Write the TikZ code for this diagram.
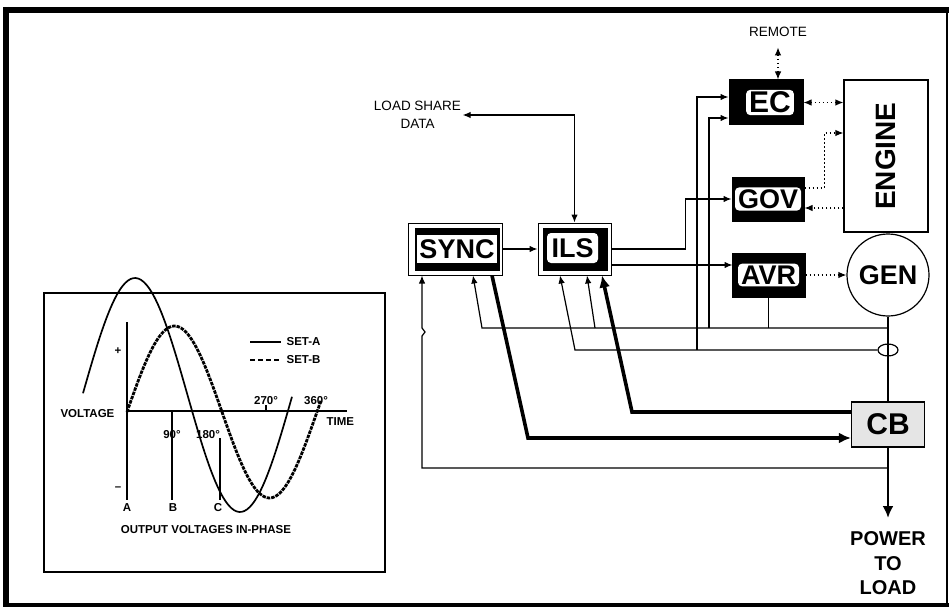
\documentclass[tikz,border=0pt]{standalone}
\usepackage{fontspec}
\setmainfont{Liberation Sans}
\usetikzlibrary{arrows.meta, calc, shapes.geometric}
\tikzset{
  every picture/.style={x=1pt, y=-1pt, line width=1.2pt, >={Latex[length=8pt, width=6.5pt]}},
  shell/.style={draw, fill=white, line width=1pt, inner sep=0pt},
  ctl/.style={draw, fill=black, line width=1pt, inner sep=0pt},
  tag/.style={fill=white, rounded corners=4pt, inner xsep=3pt, inner ysep=2pt, font=\bfseries\fontsize{27}{30}\selectfont},
  fat/.style={line width=3.6pt, -{Latex[length=12pt, width=11pt]}},
  sig/.style={dash pattern=on 1.5pt off 2.5pt, line width=1.2pt},
  note/.style={font=\fontsize{13.5}{18}\selectfont, align=center, inner sep=1pt},
  tiny/.style={font=\bfseries\fontsize{11.5}{13}\selectfont, inner sep=1pt},
}
\begin{document}
\begin{tikzpicture}
  \useasboundingbox (0,0) rectangle (950,607);
  \draw[line width=6pt] (3,10) -- (949,10); \draw[line width=6pt] (6,7) -- (6,607);
  \draw[line width=2.5pt] (947,10) -- (947,605); \draw[line width=4pt] (3,605) -- (949,605);

  \draw[line width=1.4pt] (44,293) rectangle (385,572);
  \draw (127,322) -- (127,500); \draw (172,411) -- (172,500); \draw (220,438) -- (220,500);
  \draw (127,411) -- (347,411); \draw (266,411) -- (266,405);
  \draw[line width=1.7pt] plot[domain=83:292, samples=80, smooth] (\x, {395-117*sin((\x-82.5)/210*360)});
  \draw[line width=2.8pt, dash pattern=on 3.5pt off 1pt] plot[domain=127:321, samples=80, smooth] (\x, {412-86*sin((\x-127)/190*360)});
  \draw (250,342) -- (281,342); \draw[dash pattern=on 5pt off 3pt] (250,360) -- (281,360);
  \node[tiny, anchor=west] (seta) at (285,342) {SET-A};
  \node[tiny, anchor=west] (setb) at (285,360) {SET-B};
  \node[tiny, anchor=east] (volt) at (116,414) {VOLTAGE};
  \node[tiny] (plus) at (118,351) {+}; \node[tiny] (minus) at (118,489) {--};
  \node[tiny] (la) at (127,508) {A}; \node[tiny] (lb) at (173,508) {B}; \node[tiny] (lc) at (218,508) {C};
  \node[tiny] (d90) at (172,435) {90°}; \node[tiny] (d180) at (208,435) {180°};
  \node[tiny] (d270) at (266,401) {270°}; \node[tiny] (d360) at (316,401) {360°};
  \node[tiny, anchor=west] (time) at (325,422) {TIME};
  \node[tiny] (inphase) at (206,530) {OUTPUT VOLTAGES IN-PHASE};

  \node[shell, minimum width=94pt, minimum height=52pt] (sync) at (455,249) {};
  \node[ctl, minimum width=84pt, minimum height=42pt] (syncbg) at (457,249) {};
  \node[tag, rounded corners=0pt, minimum width=80pt, minimum height=28pt, inner sep=0pt] (synct) at (457,249) {SYNC};
  \node[shell, minimum width=73pt, minimum height=52pt] (ils) at (574.5,249) {};
  \node[ctl, minimum width=64pt, minimum height=42pt] (ilsbg) at (575,249) {};
  \node[tag, minimum width=51pt, minimum height=30pt, inner sep=0pt] (ilst) at (572.5,248) {ILS};
  \node[ctl, minimum width=74pt, minimum height=45pt] (ec) at (766,102.5) {};
  \node[tag, font=\bfseries\fontsize{30}{32}\selectfont] (ect) at (770,102.5) {EC};
  \node[ctl, minimum width=72pt, minimum height=44pt] (gov) at (768,199) {};
  \node[tag] (govt) at (768,199) {GOV};
  \node[ctl, minimum width=73pt, minimum height=44pt] (avr) at (768.5,275) {};
  \node[tag] (avrt) at (768.5,275) {AVR};
  \node[draw, minimum width=84pt, minimum height=152pt, font=\bfseries\fontsize{28}{30}\selectfont] (engine) at (886,156) {\rotatebox{90}{ENGINE}};
  \node[draw, circle, minimum size=82pt, inner sep=0pt, font=\bfseries\fontsize{27}{30}\selectfont] (gen) at (888,275) {GEN};
  \node[draw, fill=black!10, minimum width=73pt, minimum height=45pt, font=\bfseries\fontsize{30}{32}\selectfont] (cb) at (888,424.5) {CB};
  \node[font=\bfseries\fontsize{20}{24.5}\selectfont, align=center, inner ysep=13pt, anchor=north] (load) at (888,518) {POWER\\TO\\LOAD};
  \node[note] (remote) at (778,32) {REMOTE};
  \node[note] (share) at (417.5,115) {LOAD SHARE\\DATA};

  \draw[line width=2.8pt] (gen.south) -- (cb.north);
  \node[draw, ellipse, minimum width=20pt, minimum height=12pt, inner sep=0pt] (ct) at (888,350) {};
  \draw[line width=2.8pt, -{Latex[length=12pt, width=11pt]}] (cb.south) -- (load.north);
  \coordinate (vs) at (888,328); \coordinate (ld) at (888,468);
  \coordinate (ctj) at (697,350); \coordinate (vsj) at (709,328); \coordinate (ilsj) at (595,328);

  \draw[->] (sync.east) -- (ils.west);
  \draw[<->] (ils.north) |- (share.east);
  \draw[sig, <->, shorten <=9pt] (remote.south) -- (remote.south |- ec.north);
  \draw[sig, <->] (ec.east) -- (ec.east -| engine.west);
  \draw[sig, ->] ([yshift=11pt]gov.east) -| ([xshift=-19pt, yshift=23pt]engine.west) -- ([yshift=23pt]engine.west);
  \draw[sig, ->] ([yshift=-52pt]engine.west) -- ([yshift=-9pt]gov.east);
  \draw[sig, ->] (avr.east) -- (gen.west);
  \draw[->] (ils.east) -- ++(74,0) |- (gov.west);
  \draw[->] ([yshift=-16pt]ils.east) -- ++(121,0);
  \draw[->] (ctj) |- ([yshift=5.5pt]ec.west);
  \draw[->] (vsj) |- ([yshift=-15.5pt]ec.west);
  \draw[->] (ct.west) -- (575,350) -- ([xshift=-14.5pt]ils.south);
  \draw[->] (vs) -- (482,328) -- ([xshift=18pt]sync.south);
  \draw[->] (ilsj) -- ([xshift=12.5pt]ils.south);
  \draw (avr.south) -- (avr.south |- vs);
  \draw[fat] ([xshift=37pt]sync.south) -- (528,438) -- ([yshift=-13.5pt]cb.west);
  \draw[fat] ([yshift=12.5pt]cb.west) -- (632,412) -- ([xshift=27.5pt]ils.south);
  \draw[->] (ld) -- (422,468) -- (422,336) -- (425,332) -- (422,328) -- ([xshift=-33pt]sync.south);
\end{tikzpicture}
\end{document}
